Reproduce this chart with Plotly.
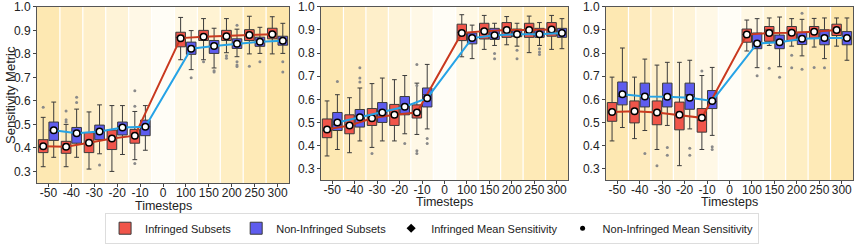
import plotly.graph_objects as go

# ---------------- data ----------------
categories = ["-50", "-40", "-30", "-20", "-10", "0", "100", "150", "200", "250", "300"]
box_categories = ["-50", "-40", "-30", "-20", "-10", "100", "150", "200", "250", "300"]

# Panel 1
p1_inf_lf = [0.32, 0.32, 0.31, 0.30, 0.35, 0.775, 0.775, 0.805, 0.80, 0.80]
p1_inf_q1 = [0.38, 0.377, 0.38, 0.393, 0.42, 0.83, 0.857, 0.857, 0.857, 0.864]
p1_inf_med = [0.405, 0.40, 0.42, 0.44, 0.45, 0.87, 0.875, 0.877, 0.88, 0.885]
p1_inf_q3 = [0.435, 0.428, 0.465, 0.476, 0.479, 0.892, 0.90, 0.90, 0.903, 0.909]
p1_inf_uf = [0.53, 0.50, 0.553, 0.58, 0.555, 0.955, 0.95, 0.95, 0.96, 0.958]
p1_inf_mean = [0.407, 0.405, 0.422, 0.44, 0.452, 0.867, 0.873, 0.875, 0.88, 0.884]
p1_inf_out = [[0.573], [0.557, 0.52, 0.51], [], [], [0.577, 0.643, 0.334], [], [0.767], [0.792, 0.781], [0.747], []]

p1_non_lf = [0.36, 0.36, 0.375, 0.372, 0.39, 0.733, 0.74, 0.788, 0.802, 0.802]
p1_non_q1 = [0.432, 0.42, 0.435, 0.455, 0.452, 0.798, 0.802, 0.823, 0.832, 0.837]
p1_non_med = [0.475, 0.46, 0.47, 0.49, 0.49, 0.82, 0.835, 0.845, 0.852, 0.857]
p1_non_q3 = [0.51, 0.487, 0.497, 0.51, 0.518, 0.85, 0.857, 0.864, 0.871, 0.875]
p1_non_uf = [0.595, 0.565, 0.583, 0.58, 0.58, 0.899, 0.909, 0.905, 0.913, 0.93]
p1_non_mean = [0.475, 0.462, 0.47, 0.487, 0.49, 0.822, 0.833, 0.843, 0.852, 0.856]
p1_non_out = [[], [0.615, 0.593], [0.327], [], [], [0.698], [0.728, 0.723], [0.922, 0.767, 0.753, 0.746], [0.767], [0.767, 0.723]]

# Panel 2
p2_inf_lf = [0.355, 0.369, 0.392, 0.42, 0.448, 0.784, 0.816, 0.836, 0.802, 0.816]
p2_inf_q1 = [0.434, 0.451, 0.487, 0.487, 0.519, 0.854, 0.861, 0.868, 0.868, 0.873]
p2_inf_med = [0.465, 0.49, 0.52, 0.535, 0.545, 0.89, 0.90, 0.90, 0.90, 0.90]
p2_inf_q3 = [0.515, 0.533, 0.56, 0.578, 0.576, 0.925, 0.929, 0.932, 0.929, 0.932]
p2_inf_uf = [0.593, 0.607, 0.668, 0.685, 0.67, 0.966, 0.963, 0.958, 0.96, 0.963]
p2_inf_mean = [0.47, 0.487, 0.518, 0.533, 0.543, 0.887, 0.895, 0.90, 0.90, 0.902]
p2_inf_out = [[], [], [0.366], [], [0.751, 0.66, 0.378, 0.366], [], [], [], [], []]

p2_non_lf = [0.383, 0.42, 0.42, 0.451, 0.472, 0.776, 0.833, 0.83, 0.833, 0.819]
p2_non_q1 = [0.465, 0.48, 0.50, 0.533, 0.567, 0.84, 0.859, 0.871, 0.868, 0.868]
p2_non_med = [0.49, 0.515, 0.545, 0.57, 0.62, 0.865, 0.877, 0.882, 0.882, 0.887]
p2_non_q3 = [0.543, 0.556, 0.586, 0.612, 0.649, 0.887, 0.907, 0.904, 0.907, 0.907]
p2_non_uf = [0.62, 0.649, 0.692, 0.703, 0.751, 0.921, 0.929, 0.929, 0.932, 0.949]
p2_non_mean = [0.50, 0.522, 0.543, 0.568, 0.605, 0.865, 0.877, 0.882, 0.882, 0.887]
p2_non_out = [[0.677], [0.737, 0.692, 0.675], [], [0.409], [0.43, 0.409], [], [0.798, 0.776], [0.812, 0.776], [0.819, 0.805, 0.794], []]

# Panel 3
p3_inf_lf = [0.42, 0.43, 0.383, 0.313, 0.383, 0.809, 0.833, 0.83, 0.826, 0.83]
p3_inf_q1 = [0.505, 0.498, 0.49, 0.468, 0.458, 0.847, 0.851, 0.854, 0.864, 0.876]
p3_inf_med = [0.545, 0.545, 0.54, 0.53, 0.51, 0.88, 0.90, 0.89, 0.895, 0.90]
p3_inf_q3 = [0.586, 0.593, 0.593, 0.588, 0.56, 0.904, 0.915, 0.915, 0.915, 0.925]
p3_inf_uf = [0.696, 0.696, 0.748, 0.76, 0.703, 0.943, 0.952, 0.949, 0.95, 0.952]
p3_inf_mean = [0.545, 0.548, 0.543, 0.533, 0.52, 0.88, 0.887, 0.888, 0.892, 0.90]
p3_inf_out = [[], [], [0.313], [], [0.723], [], [0.734], [0.791, 0.737], [0.738], []]

p3_non_lf = [0.478, 0.465, 0.487, 0.472, 0.444, 0.737, 0.741, 0.788, 0.776, 0.769]
p3_non_q1 = [0.576, 0.567, 0.567, 0.557, 0.56, 0.819, 0.819, 0.837, 0.836, 0.836]
p3_non_med = [0.612, 0.61, 0.61, 0.62, 0.59, 0.84, 0.845, 0.86, 0.865, 0.865]
p3_non_q3 = [0.675, 0.67, 0.67, 0.67, 0.638, 0.887, 0.878, 0.89, 0.901, 0.893]
p3_non_uf = [0.822, 0.774, 0.76, 0.769, 0.738, 0.949, 0.956, 0.946, 0.952, 0.952]
p3_non_mean = [0.622, 0.612, 0.611, 0.607, 0.593, 0.842, 0.847, 0.862, 0.865, 0.865]
p3_non_out = [[], [0.366], [0.392, 0.358], [0.388, 0.358], [0.395, 0.383], [0.702], [0.696], [0.972, 0.73], [0.737], []]

y_ticks = [0.3, 0.4, 0.5, 0.6, 0.7, 0.8, 0.9, 1.0]

# ---------------- styling ----------------
band_colors = ["#FDE8B2", "#FEEBBE", "#FEEFCA", "#FEF3D7", "#FFF8E6", "#FFFDF6",
               "#FFF8E4", "#FFF3D3", "#FEEEC3", "#FEEAB7", "#FDE6AB"]
INF_FILL = "#F0554A"
NON_FILL = "#5E5CEE"
INF_LINE = "#C9391F"
NON_LINE = "#26A3E6"
FONT = "Liberation Sans, Arial, sans-serif"

W, H = 859, 244
x_doms = [(37, 289), (321, 568), (606, 853)]
y_top = 7
y_bots = [187, 184, 184]
title_ys = [210, 206, 206]
OFF = 0.23
BOXW = 0.42

cat_index = {c: i for i, c in enumerate(categories)}
box_idx = [cat_index[c] for c in box_categories]

panels = [
    dict(inf=(p1_inf_lf, p1_inf_q1, p1_inf_med, p1_inf_q3, p1_inf_uf, p1_inf_mean, p1_inf_out),
         non=(p1_non_lf, p1_non_q1, p1_non_med, p1_non_q3, p1_non_uf, p1_non_mean, p1_non_out)),
    dict(inf=(p2_inf_lf, p2_inf_q1, p2_inf_med, p2_inf_q3, p2_inf_uf, p2_inf_mean, p2_inf_out),
         non=(p2_non_lf, p2_non_q1, p2_non_med, p2_non_q3, p2_non_uf, p2_non_mean, p2_non_out)),
    dict(inf=(p3_inf_lf, p3_inf_q1, p3_inf_med, p3_inf_q3, p3_inf_uf, p3_inf_mean, p3_inf_out),
         non=(p3_non_lf, p3_non_q1, p3_non_med, p3_non_q3, p3_non_uf, p3_non_mean, p3_non_out)),
]

fig = go.Figure()
shapes = []
annotations = []
layout_axes = {}

for p, panel in enumerate(panels):
    sfx = "" if p == 0 else str(p + 1)
    xa, ya = "x" + sfx, "y" + sfx
    for key, offs, fill, lcol, name in [("inf", -OFF, INF_FILL, INF_LINE, "Infringed Subsets"),
                                         ("non", OFF, NON_FILL, NON_LINE, "Non-Infringed Subsets")]:
        lf, q1, med, q3, uf, mean, outs = panel[key]
        xpos = [i + offs for i in box_idx]
        fig.add_trace(go.Box(
            x=xpos, q1=q1, median=med, q3=q3, lowerfence=lf, upperfence=uf,
            width=BOXW, whiskerwidth=0.5, fillcolor=fill,
            line=dict(color="#3a3a3a", width=1), boxpoints=False,
            name=name, legendgroup=name, showlegend=(p == 0),
            xaxis=xa, yaxis=ya, hoverinfo="skip"))
        ox, oy = [], []
        for xp, ol in zip(xpos, outs):
            for v in ol:
                ox.append(xp)
                oy.append(v)
        fig.add_trace(go.Scatter(
            x=ox, y=oy, mode="markers", showlegend=False,
            marker=dict(color="#8a8a8a", size=3),
            xaxis=xa, yaxis=ya, hoverinfo="skip"))
    for key, offs, lcol in [("inf", -OFF, INF_LINE), ("non", OFF, NON_LINE)]:
        mean = panel[key][5]
        xpos = [i + offs for i in box_idx]
        fig.add_trace(go.Scatter(
            x=xpos, y=mean, mode="lines+markers", showlegend=False,
            line=dict(color=lcol, width=2),
            marker=dict(color="white", size=6.5, symbol="circle",
                        line=dict(color="black", width=1.5)),
            xaxis=xa, yaxis=ya, hoverinfo="skip"))

    # background bands
    for i, c in enumerate(categories):
        shapes.append(dict(type="rect", xref=xa, yref=ya + " domain",
                           x0=i - 0.5, x1=i + 0.5, y0=0, y1=1,
                           fillcolor=band_colors[i], line=dict(width=0), layer="below"))
        if i > 0:
            shapes.append(dict(type="line", xref=xa, yref=ya + " domain",
                               x0=i - 0.5, x1=i - 0.5, y0=0, y1=1,
                               line=dict(color="white", width=1.2), layer="below"))

    d0, d1 = x_doms[p]
    layout_axes["xaxis" + sfx] = dict(
        domain=[d0 / W, d1 / W], anchor=ya, range=[-0.5, len(categories) - 0.5],
        tickvals=list(range(len(categories))), ticktext=categories,
        ticks="outside", ticklen=3, tickcolor="#444", showgrid=False, zeroline=False,
        showline=True, linecolor="#555", linewidth=1, mirror=True, ticklabelstandoff=-5,
        tickfont=dict(size=12, color="#222", family=FONT), automargin=False)
    layout_axes["yaxis" + sfx] = dict(
        domain=[1 - y_bots[p] / H, 1 - y_top / H], anchor=xa, range=[0.25, 1.0],
        tickvals=y_ticks, tickformat=".1f",
        ticks="outside", ticklen=3, tickcolor="#444", showgrid=False, zeroline=False,
        showline=True, linecolor="#555", linewidth=1, mirror=True,
        tickfont=dict(size=12, color="#222", family=FONT), automargin=False)
    annotations.append(dict(text="Timesteps", xref="paper", yref="paper",
                            x=(d0 + d1) / 2 / W, y=1 - title_ys[p] / H, xanchor="center", yanchor="middle",
                            showarrow=False, font=dict(size=12.5, color="#222", family=FONT)))

annotations.append(dict(text="Sensitivity Metric", xref="paper", yref="paper",
                        x=10 / W, y=1 - 97 / H, xanchor="center", yanchor="middle", textangle=-90,
                        showarrow=False, font=dict(size=13, color="#222", family=FONT)))

# legend-only marker entries
fig.add_trace(go.Scatter(x=[None], y=[None], mode="markers", name="Infringed Mean Sensitivity",
                         marker=dict(color="black", symbol="diamond", size=7)))
fig.add_trace(go.Scatter(x=[None], y=[None], mode="markers", name="Non-Infringed Mean Sensitivity",
                         marker=dict(color="black", symbol="circle", size=5)))

fig.update_layout(
    width=W, height=H, margin=dict(l=0, r=0, t=0, b=0),
    paper_bgcolor="white", plot_bgcolor="white",
    font=dict(family=FONT, color="#222"),
    boxmode="overlay",
    shapes=shapes,
    annotations=annotations,
    legend=dict(orientation="h", x=0.503, xanchor="center", y=1 - 233 / H, yanchor="middle",
                bordercolor="#dddddd", borderwidth=1, bgcolor="white",
                font=dict(size=11, family=FONT, color="#222"), itemwidth=30,
                tracegroupgap=0),
    **layout_axes)

fig.write_html("out.html", config={"displayModeBar": False},
               post_script="document.body.style.margin='0px';")
